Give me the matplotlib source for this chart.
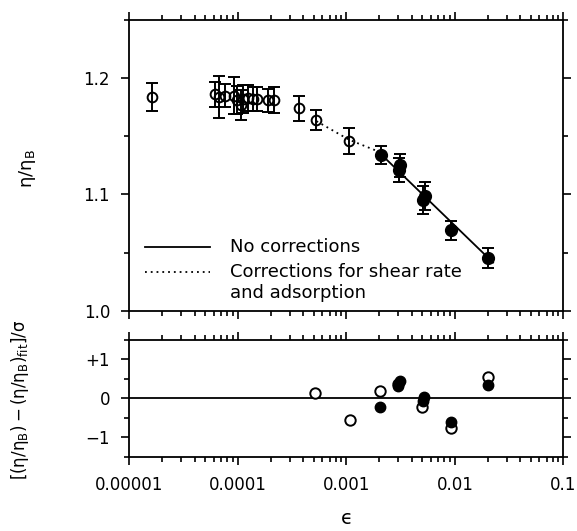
import numpy as np
import matplotlib
matplotlib.use('Agg')
import matplotlib.pyplot as plt
from matplotlib.ticker import FixedLocator, FixedFormatter, LogLocator, NullFormatter

plt.rcParams['font.family'] = ['DejaVu Sans']
plt.rcParams['mathtext.fontset'] = 'dejavusans'

# open circles (upper panel)
x_open = [1.6e-5, 6.1e-5, 6.7e-5, 7.6e-5, 9.2e-5, 9.7e-5, 1.06e-4, 1.12e-4,
          1.24e-4, 1.38e-4, 1.49e-4, 1.9e-4, 2.15e-4, 3.65e-4, 5.24e-4, 1.06e-3]
y_open = [1.184, 1.186, 1.184, 1.185, 1.185, 1.181, 1.177, 1.182,
          1.183, 1.182, 1.182, 1.181, 1.181, 1.174, 1.164, 1.146]
err_open = [0.012, 0.011, 0.018, 0.010, 0.016, 0.012, 0.013, 0.012,
            0.011, 0.010, 0.010, 0.010, 0.011, 0.011, 0.009, 0.011]

# filled circles (upper panel)
x_fill = [2.07e-3, 3.05e-3, 3.15e-3, 5.1e-3, 5.25e-3, 9.3e-3, 2.03e-2]
y_fill = [1.134, 1.121, 1.125, 1.095, 1.099, 1.069, 1.045]
err_fill = [0.008, 0.010, 0.010, 0.012, 0.012, 0.008, 0.0086]

# fit curves
fit_x = [1.96e-3, 2.25e-2]
fit_y = [1.137, 1.0414]
corr_x = [5.3e-4, 1.06e-3, 1.96e-3]
corr_y = [1.163, 1.147, 1.137]

# residuals (lower panel)
res_open_x = [5.13e-4, 1.08e-3, 2.04e-3, 3.0e-3, 5.0e-3, 9.3e-3, 2.03e-2]
res_open_y = [0.13, -0.56, 0.18, 0.38, -0.23, -0.75, 0.56]
res_fill_x = [2.04e-3, 3.0e-3, 3.15e-3, 5.1e-3, 5.2e-3, 9.3e-3, 2.03e-2]
res_fill_y = [-0.23, 0.33, 0.45, -0.08, 0.03, -0.62, 0.35]

xticks = [1e-5, 1e-4, 1e-3, 1e-2, 1e-1]
xlabels = ['0.00001', '0.0001', '0.001', '0.01', '0.1']

fig = plt.figure(figsize=(5.77, 5.31), dpi=100)
ax1 = fig.add_axes([0.2244, 0.4149, 0.7519, 0.5474])
ax2 = fig.add_axes([0.2244, 0.1399, 0.7519, 0.2198])

for ax in (ax1, ax2):
    ax.set_xscale('log')
    ax.set_xlim(1e-5, 1e-1)
    ax.xaxis.set_major_locator(FixedLocator(xticks))
    ax.xaxis.set_minor_locator(LogLocator(base=10, subs=np.arange(2, 10), numticks=20))
    ax.xaxis.set_minor_formatter(NullFormatter())
    ax.tick_params(which='both', direction='out', top=True, right=True,
                   width=1.2, labelsize=12, pad=8)
    ax.tick_params(which='major', length=6)
    ax.tick_params(which='minor', length=3.5)
    for s in ax.spines.values():
        s.set_linewidth(1.3)

# upper panel
ax1.errorbar(x_open, y_open, yerr=err_open, fmt='o', ms=7, mfc='none', mec='black',
             mew=1.4, ecolor='black', elinewidth=1.4, capsize=4, capthick=1.4, zorder=3)
ax1.errorbar(x_fill, y_fill, yerr=err_fill, fmt='o', ms=8.5, mfc='black', mec='black',
             ecolor='black', elinewidth=1.4, capsize=4, capthick=1.4, zorder=3)
ax1.plot(corr_x, corr_y, color='black', lw=1.3, linestyle=(0, (1, 2.2)), zorder=2)
ax1.plot(fit_x, fit_y, color='black', lw=1.3, zorder=2)
ax1.set_ylim(1.0, 1.25)
ax1.set_yticks([1.0, 1.1, 1.2])
ax1.set_yticklabels(['1.0', '1.1', '1.2'])
ax1.yaxis.set_minor_locator(FixedLocator([1.05, 1.15, 1.25]))
ax1.set_xticklabels([])
ax1.set_ylabel(r'$\mathrm{\eta/\eta_B}$', fontsize=13)
ax1.yaxis.set_label_coords(-0.212, 0.49)

# legend drawn by hand
ax1.plot([0.036, 0.186], [0.220, 0.220], color='black', lw=1.3, transform=ax1.transAxes)
ax1.plot([0.036, 0.186], [0.134, 0.134], color='black', lw=1.3,
         linestyle=(0, (1, 2.2)), transform=ax1.transAxes)
ax1.text(0.232, 0.220, 'No corrections', fontsize=13, va='center', transform=ax1.transAxes)
ax1.text(0.232, 0.134, 'Corrections for shear rate', fontsize=13, va='center',
         transform=ax1.transAxes)
ax1.text(0.232, 0.060, 'and adsorption', fontsize=13, va='center', transform=ax1.transAxes)

# lower panel
ax2.axhline(0, color='black', lw=1.3, zorder=1)
ax2.plot(res_open_x, res_open_y, 'o', ms=7.5, mfc='white', mec='black', mew=1.4, zorder=2)
ax2.plot(res_fill_x, res_fill_y, 'o', ms=7.5, mfc='black', mec='black', zorder=3)
ax2.set_ylim(-1.5, 1.5)
ax2.set_yticks([-1, 0, 1])
ax2.set_yticklabels(['\u22121', '0', '+1'])
ax2.yaxis.set_minor_locator(FixedLocator([-1.5, -0.5, 0.5, 1.5]))
ax2.xaxis.set_major_formatter(FixedFormatter(xlabels))
ax2.set_ylabel(r'$\mathrm{[(\eta/\eta_B)-(\eta/\eta_B)_{fit}]/\sigma}$', fontsize=12)
ax2.yaxis.set_label_coords(-0.228, 0.49)
ax2.set_xlabel('\u03f5', fontsize=14, labelpad=11)

fig.savefig('out.png', dpi=100)
